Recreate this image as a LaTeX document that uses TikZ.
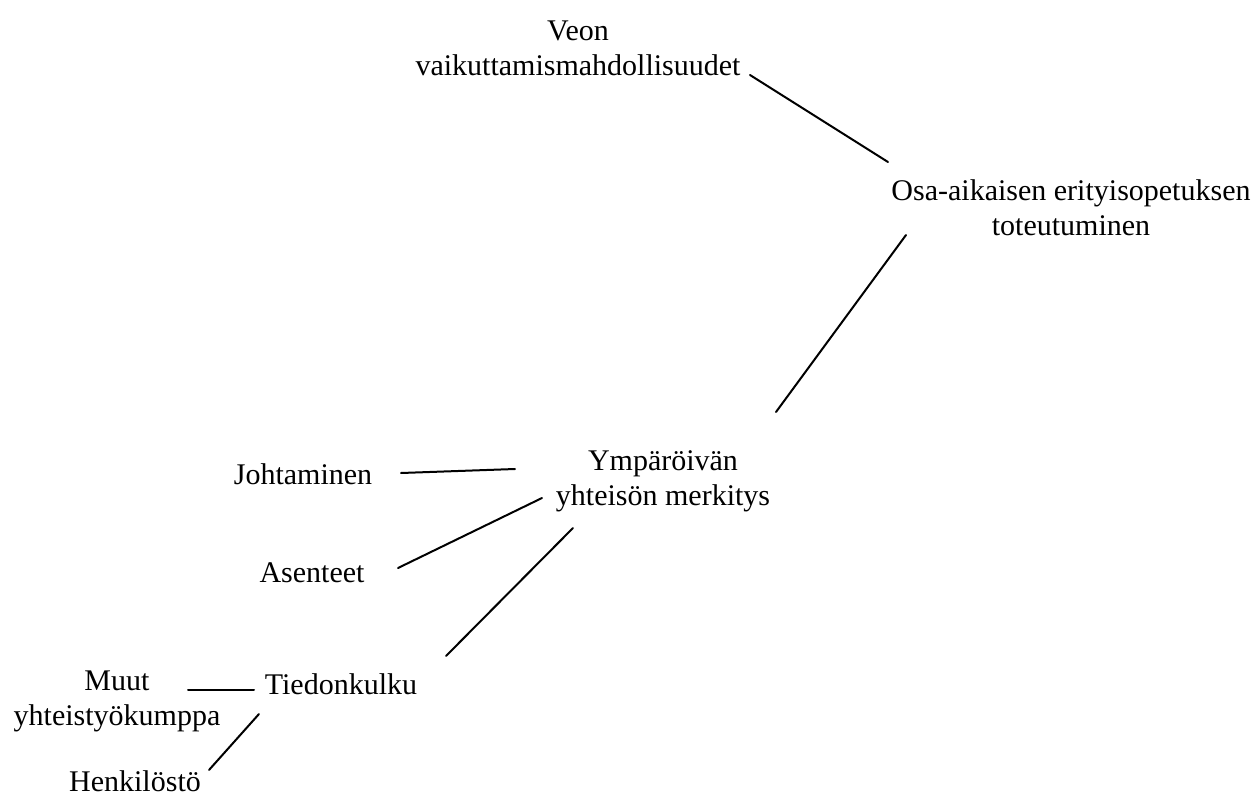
\documentclass[tikz,border=0pt]{standalone}
\usepackage{fontspec}
\setmainfont{Liberation Serif}
\tikzset{
  lbl/.style={align=center, inner sep=0pt, font=\fontsize{15}{17.5}\selectfont},
  link/.style={line width=1pt, line cap=round}
}

\begin{document}
\begin{tikzpicture}[x=0.5pt, y=-0.5pt]
			%%%%% START %%%%%
			\useasboundingbox (0, 0) rectangle (1254, 798);
			
			\node[lbl] (veon) at (578, 48) {Veon\\vaikuttamismahdollisuudet};
			\node[lbl] (osa) at (1071, 208) {Osa-aikaisen erityisopetuksen\\toteutuminen};
			\node[lbl] (ymp) at (663, 481) {Ympäröivän\\yhteisön merkitys};
			
			\node[lbl] (johto) at (303, 474) {Johtaminen};
			\node[lbl] (asent) at (312, 573) {Asenteet};
			\node[lbl] (tieto) at (341, 684) {Tiedonkulku};
			
			\node[lbl] (muut) at (117, 701) {Muut\\yhteistyökumppa};
			\node[lbl] (henk) at (135, 781) {Henkilöstö};
			
			\draw[link] ([shift={(172, 27)}]veon.center) -- ([shift={(-183, -46)}]osa.center);
			\draw[link] ([shift={(-165, 27)}]osa.center) -- ([shift={(113, -69)}]ymp.center);
			
			\draw[link] ([shift={(98, -1)}]johto.center) -- ([shift={(-148, -12)}]ymp.center);
			\draw[link] ([shift={(86, -5)}]asent.center) -- ([shift={(-121, 17)}]ymp.center);
			\draw[link] ([shift={(-90, 47)}]ymp.center) -- ([shift={(105, -28)}]tieto.center);
			
			\draw[link] ([shift={(71, -11)}]muut.center) -- ([shift={(-87, 6)}]tieto.center);
			\draw[link] ([shift={(-82, 30)}]tieto.center) -- ([shift={(74, -11)}]henk.center);
			%%%%% END %%%%%
\end{tikzpicture}
\end{document}
